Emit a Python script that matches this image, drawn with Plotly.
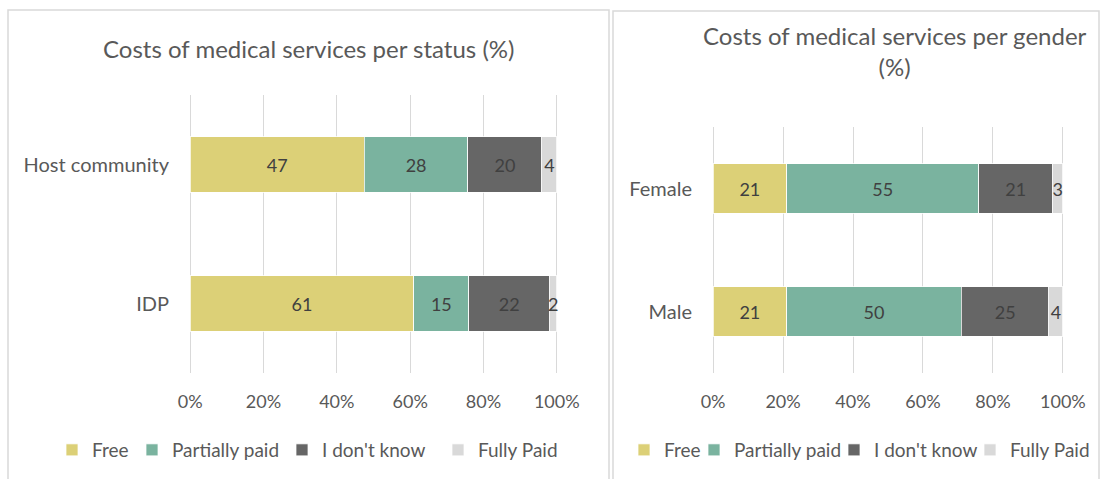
import plotly.graph_objects as go

W, H = 1103, 479

series = ["Free", "Partially paid", "I don't know", "Fully Paid"]
colors = ["#DCD077", "#7AB39F", "#666666", "#D9D9D9"]

status_cats = ["Host community", "IDP"]
status_vals = {
    "Free": [47, 61],
    "Partially paid": [28, 15],
    "I don't know": [20, 22],
    "Fully Paid": [4, 2],
}

gender_cats = ["Female", "Male"]
gender_vals = {
    "Free": [21, 21],
    "Partially paid": [55, 50],
    "I don't know": [21, 25],
    "Fully Paid": [3, 4],
}

title_left = "Costs of medical services per status (%)"
title_right = "Costs of medical services per gender<br>(%)"

FONT = "Lato"
TXT = "#595959"
LBL = "#404040"

# legend entry widths (spacing only)
leg_w_left = [35, 105, 111, 79]
leg_w_right = [25, 95, 91, 79]

fig = go.Figure()

for s, c, lw in zip(series, colors, leg_w_left):
    fig.add_trace(go.Bar(
        y=status_cats, x=status_vals[s], name=s, orientation="h",
        marker=dict(color=c, line=dict(color="white", width=0.75)),
        text=[str(v) for v in status_vals[s]], textposition="inside",
        insidetextanchor="middle", textangle=0, constraintext="none",
        textfont=dict(family=FONT, size=18, color=LBL),
        xaxis="x", yaxis="y", legend="legend", legendwidth=lw,
        hoverinfo="skip",
    ))

for s, c, lw in zip(series, colors, leg_w_right):
    fig.add_trace(go.Bar(
        y=gender_cats, x=gender_vals[s], name=s, orientation="h",
        marker=dict(color=c, line=dict(color="white", width=0.75)),
        text=[str(v) for v in gender_vals[s]], textposition="inside",
        insidetextanchor="middle", textangle=0, constraintext="none",
        textfont=dict(family=FONT, size=18, color=LBL),
        xaxis="x2", yaxis="y2", legend="legend2", legendwidth=lw,
        hoverinfo="skip",
    ))

def px_x(p):
    return p / W

def px_y(p):
    return 1 - p / H

xcommon = dict(range=[-0.6, 100.6], tickvals=[0, 20, 40, 60, 80, 100],
               ticktext=["0%", "20%", "40%", "60%", "80%", "100%"],
               showgrid=True, gridcolor="#D9D9D9", gridwidth=1.25,
               zeroline=False, showline=False, ticks="", ticklabelstandoff=16,
               automargin=False,
               tickfont=dict(family=FONT, size=18, color=TXT), fixedrange=True)
ycommon = dict(type="category", autorange="reversed", showgrid=False,
               zeroline=False, showline=False, ticks="", ticklabelstandoff=18,
               automargin=False,
               tickfont=dict(family=FONT, size=20, color=TXT), fixedrange=True)

legcommon = dict(orientation="h", xanchor="left", yanchor="middle",
                 y=px_y(450), font=dict(family=FONT, size=19, color=TXT),
                 bgcolor="rgba(0,0,0,0)", traceorder="normal", borderwidth=0)

fig.update_layout(
    width=W, height=H, autosize=False,
    margin=dict(l=0, r=0, t=0, b=0, autoexpand=False),
    paper_bgcolor="white", plot_bgcolor="white",
    barmode="stack", barnorm="percent", bargap=0.6,
    xaxis=dict(domain=[px_x(188), px_x(559)], anchor="y", **xcommon),
    yaxis=dict(domain=[px_y(373), px_y(95)], anchor="x", **ycommon),
    xaxis2=dict(domain=[px_x(711), px_x(1065)], anchor="y2", **xcommon),
    yaxis2=dict(domain=[px_y(373), px_y(127)], anchor="x2", **ycommon),
    legend=dict(x=px_x(52), **legcommon),
    legend2=dict(x=px_x(624), **legcommon),
    annotations=[
        dict(text=title_left, x=px_x(308.5), y=px_y(49), xref="paper", yref="paper",
             xanchor="center", yanchor="middle", showarrow=False,
             font=dict(family=FONT, size=24, color=TXT)),
        dict(text=title_right, x=px_x(895), y=px_y(51), xref="paper", yref="paper",
             xanchor="center", yanchor="middle", showarrow=False,
             font=dict(family=FONT, size=24, color=TXT)),
    ],
    shapes=[
        dict(type="rect", xref="paper", yref="paper", x0=px_x(8), x1=px_x(609),
             y0=-0.1, y1=px_y(10), line=dict(color="#D9D9D9", width=1.5)),
        dict(type="rect", xref="paper", yref="paper", x0=px_x(613), x1=px_x(1099),
             y0=-0.1, y1=px_y(11), line=dict(color="#D9D9D9", width=1.5)),
    ],
)

fig.write_html("out.html", config={"displayModeBar": False},
               post_script="document.body.style.margin='0';document.body.style.overflow='hidden';")
